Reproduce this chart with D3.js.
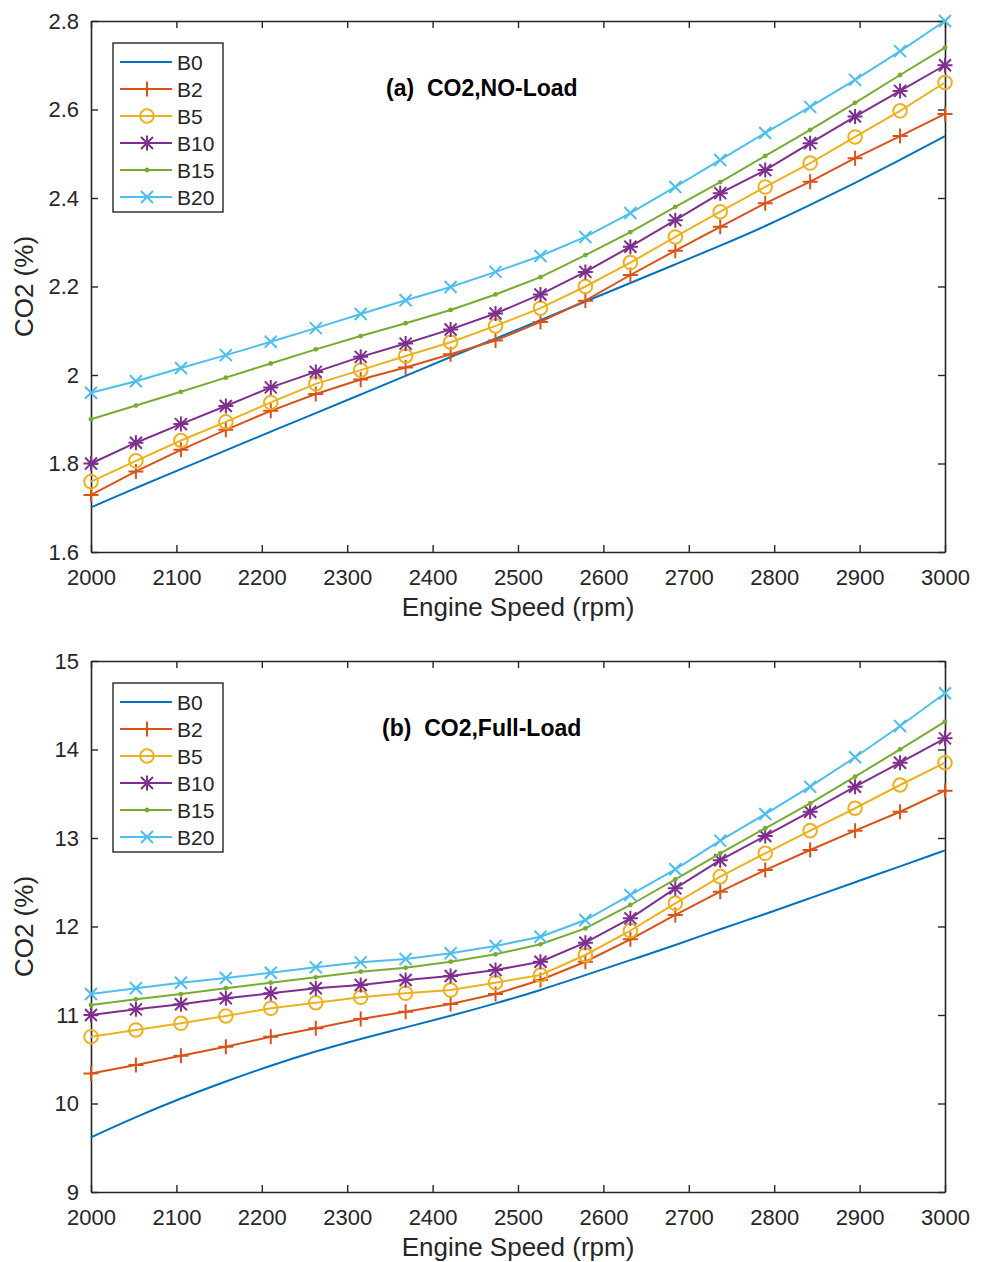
<!DOCTYPE html>
<html>
<head>
<meta charset="utf-8">
<script src="https://cdn.jsdelivr.net/npm/d3@7"></script>
<style>
  body { margin: 0; background: #fff; }
  text { font-family: "Liberation Sans", Arial, Helvetica, sans-serif; }
</style>
</head>
<body>
<div class="chart"></div>
<script>
// engine speed points where the series were sampled
var rpm = [2000, 2052.6, 2105.3, 2157.9, 2210.5, 2263.2, 2315.8, 2368.4, 2421.1, 2473.7,
           2526.3, 2578.9, 2631.6, 2684.2, 2736.8, 2789.5, 2842.1, 2894.7, 2947.4, 3000];

var seriesNames = ["B0", "B2", "B5", "B10", "B15", "B20"];
var seriesColors = ["#0072BD", "#D95319", "#EDB120", "#7E2F8E", "#77AC30", "#4DBEEE"];
var seriesMarkers = ["none", "plus", "circle", "star", "dot", "cross"];

// (a) CO2, no load
var noLoadB0  = [1.701, 1.745, 1.787, 1.830, 1.872, 1.914, 1.956, 1.998, 2.041, 2.082,
                 2.124, 2.166, 2.208, 2.250, 2.292, 2.336, 2.384, 2.434, 2.486, 2.540];
var noLoadB2  = [1.729, 1.782, 1.831, 1.876, 1.919, 1.957, 1.990, 2.017, 2.047, 2.078,
                 2.120, 2.168, 2.226, 2.281, 2.335, 2.388, 2.437, 2.490, 2.540, 2.590];
var noLoadB5  = [1.759, 1.806, 1.852, 1.894, 1.938, 1.980, 2.011, 2.043, 2.074, 2.111,
                 2.151, 2.200, 2.254, 2.312, 2.369, 2.425, 2.479, 2.538, 2.597, 2.661];
var noLoadB10 = [1.800, 1.847, 1.889, 1.930, 1.972, 2.007, 2.041, 2.071, 2.103, 2.139,
                 2.182, 2.233, 2.290, 2.350, 2.411, 2.463, 2.524, 2.584, 2.642, 2.700];
var noLoadB15 = [1.900, 1.931, 1.962, 1.994, 2.026, 2.058, 2.088, 2.117, 2.147, 2.182,
                 2.221, 2.271, 2.323, 2.380, 2.436, 2.495, 2.554, 2.615, 2.678, 2.740];
var noLoadB20 = [1.960, 1.986, 2.016, 2.045, 2.075, 2.106, 2.138, 2.169, 2.199, 2.233,
                 2.269, 2.312, 2.366, 2.425, 2.486, 2.547, 2.606, 2.667, 2.732, 2.800];

// (b) CO2, full load
var fullLoadB0  = [9.618, 9.850, 10.06, 10.25, 10.43, 10.59, 10.73, 10.86, 10.99, 11.13,
                   11.28, 11.45, 11.62, 11.79, 11.97, 12.14, 12.32, 12.50, 12.68, 12.86];
var fullLoadB2  = [10.34, 10.435, 10.54, 10.642, 10.755, 10.85, 10.955, 11.037, 11.124, 11.237,
                   11.395, 11.602, 11.855, 12.13, 12.394, 12.638, 12.864, 13.083, 13.297, 13.535];
var fullLoadB5  = [10.755, 10.831, 10.906, 10.989, 11.076, 11.139, 11.200, 11.245, 11.282, 11.365,
                   11.452, 11.678, 11.953, 12.262, 12.563, 12.827, 13.083, 13.336, 13.599, 13.851];
var fullLoadB10 = [11.00, 11.064, 11.121, 11.189, 11.245, 11.302, 11.339, 11.395, 11.441, 11.508,
                   11.602, 11.817, 12.092, 12.431, 12.749, 13.023, 13.297, 13.580, 13.851, 14.126];
var fullLoadB15 = [11.113, 11.177, 11.237, 11.302, 11.365, 11.426, 11.489, 11.534, 11.602, 11.686,
                   11.799, 11.979, 12.243, 12.533, 12.827, 13.110, 13.392, 13.693, 14.002, 14.314];
var fullLoadB20 = [11.237, 11.302, 11.365, 11.418, 11.478, 11.539, 11.595, 11.633, 11.697, 11.780,
                   11.885, 12.073, 12.356, 12.646, 12.970, 13.271, 13.580, 13.912, 14.266, 14.635];

var xTicks = [2000, 2100, 2200, 2300, 2400, 2500, 2600, 2700, 2800, 2900, 3000];
var yTicksNoLoad = [1.6, 1.8, 2, 2.2, 2.4, 2.6, 2.8];
var yTicksFullLoad = [9, 10, 11, 12, 13, 14, 15];

var W = 986, H = 1262;
var left = 91, plotW = 854, plotH = 531;
var axisColor = "#262626";

var svg = d3.select(".chart").append("svg")
  .attr("width", W)
  .attr("height", H);

svg.append("rect")
  .attr("width", W).attr("height", H)
  .attr("fill", "#fff");

// marker shapes, drawn as paths centred on 0,0
function markerPath(kind) {
  var s = 7.5, c = 6;
  if (kind == "plus") return "M" + (-s) + ",0H" + s + "M0," + (-s) + "V" + s;
  if (kind == "cross") return "M" + (-c) + "," + (-c) + "L" + c + "," + c + "M" + (-c) + "," + c + "L" + c + "," + (-c);
  if (kind == "star") return "M" + (-s) + ",0H" + s + "M0," + (-s) + "V" + s +
    "M" + (-c) + "," + (-c) + "L" + c + "," + c + "M" + (-c) + "," + c + "L" + c + "," + (-c);
  return null;
}

function drawMarker(sel, kind, color) {
  if (kind == "none") return;
  if (kind == "circle") {
    sel.append("circle").attr("r", 6.8)
      .attr("fill", "none").attr("stroke", color).attr("stroke-width", 2);
  } else if (kind == "dot") {
    sel.append("circle").attr("r", 2.4).attr("fill", color);
  } else {
    sel.append("path").attr("d", markerPath(kind))
      .attr("fill", "none").attr("stroke", color).attr("stroke-width", 2);
  }
}

function drawPanel(top, yDomain, yTicks, seriesList, title, titleX) {
  var g = svg.append("g").attr("transform", "translate(" + left + "," + top + ")");

  var x = d3.scaleLinear().domain([2000, 3000]).range([0, plotW]);
  var y = d3.scaleLinear().domain(yDomain).range([plotH, 0]);

  // axes, MATLAB style: ticks inside on all four sides
  var bottom = g.append("g").attr("transform", "translate(0," + plotH + ")")
    .call(d3.axisBottom(x).tickValues(xTicks).tickSizeInner(-7).tickSizeOuter(0).tickPadding(17)
      .tickFormat(d3.format("d")));
  var topAx = g.append("g")
    .call(d3.axisTop(x).tickValues(xTicks).tickSizeInner(-7).tickSizeOuter(0).tickFormat(""));
  var leftAx = g.append("g")
    .call(d3.axisLeft(y).tickValues(yTicks).tickSizeInner(-7).tickSizeOuter(0).tickPadding(12)
      .tickFormat(function(d) { return String(d); }));
  var rightAx = g.append("g").attr("transform", "translate(" + plotW + ",0)")
    .call(d3.axisRight(y).tickValues(yTicks).tickSizeInner(-7).tickSizeOuter(0).tickFormat(""));

  [bottom, topAx, leftAx, rightAx].forEach(function(a) {
    a.selectAll("path.domain").attr("stroke", axisColor).attr("stroke-width", 1.6);
    a.selectAll(".tick line").attr("stroke", axisColor).attr("stroke-width", 1.4);
    a.selectAll(".tick text").attr("fill", axisColor).style("font-size", "22px");
  });

  // series lines
  seriesList.forEach(function(vals, i) {
    var pts = rpm.map(function(r, k) { return [r, vals[k]]; });
    var line = d3.line()
      .x(function(d) { return x(d[0]); })
      .y(function(d) { return y(d[1]); })
      .curve(seriesMarkers[i] == "none" ? d3.curveBasis : d3.curveLinear);

    g.append("path")
      .datum(pts)
      .attr("d", line)
      .attr("fill", "none")
      .attr("stroke", seriesColors[i])
      .attr("stroke-width", 2);

    if (seriesMarkers[i] != "none") {
      g.selectAll(null).data(pts).enter()
        .append("g")
        .attr("transform", function(d) { return "translate(" + x(d[0]) + "," + y(d[1]) + ")"; })
        .each(function() { drawMarker(d3.select(this), seriesMarkers[i], seriesColors[i]); });
    }
  });

  // title inside plot
  g.append("text")
    .attr("x", titleX)
    .attr("y", 75)
    .attr("fill", "#000")
    .style("font-size", "23px")
    .style("font-weight", "bold")
    .attr("xml:space", "preserve")
    .text(title);

  // legend
  var lg = g.append("g").attr("transform", "translate(22,22)");
  lg.append("rect")
    .attr("width", 110).attr("height", 169)
    .attr("fill", "#fff")
    .attr("stroke", axisColor).attr("stroke-width", 1.4);
  seriesNames.forEach(function(name, i) {
    var row = lg.append("g").attr("transform", "translate(0," + (19 + i * 27) + ")");
    row.append("line")
      .attr("x1", 7).attr("x2", 59)
      .attr("stroke", seriesColors[i]).attr("stroke-width", 2);
    var m = row.append("g").attr("transform", "translate(34,0)");
    drawMarker(m, seriesMarkers[i], seriesColors[i]);
    row.append("text")
      .attr("x", 64).attr("dy", "0.36em")
      .attr("fill", axisColor)
      .style("font-size", "21px")
      .text(name);
  });

  // axis labels
  g.append("text")
    .attr("x", plotW / 2).attr("y", plotH + 64)
    .attr("text-anchor", "middle")
    .attr("fill", axisColor)
    .style("font-size", "26px")
    .text("Engine Speed (rpm)");
  g.append("text")
    .attr("transform", "translate(" + (-58) + "," + (plotH / 2) + ") rotate(-90)")
    .attr("text-anchor", "middle")
    .attr("fill", axisColor)
    .style("font-size", "26px")
    .text("CO2 (%)");
}

drawPanel(21, [1.6, 2.8], yTicksNoLoad,
  [noLoadB0, noLoadB2, noLoadB5, noLoadB10, noLoadB15, noLoadB20],
  "(a)  CO2,NO-Load", 295);

drawPanel(661, [9, 15], yTicksFullLoad,
  [fullLoadB0, fullLoadB2, fullLoadB5, fullLoadB10, fullLoadB15, fullLoadB20],
  "(b)  CO2,Full-Load", 291);
</script>
</body>
</html>
